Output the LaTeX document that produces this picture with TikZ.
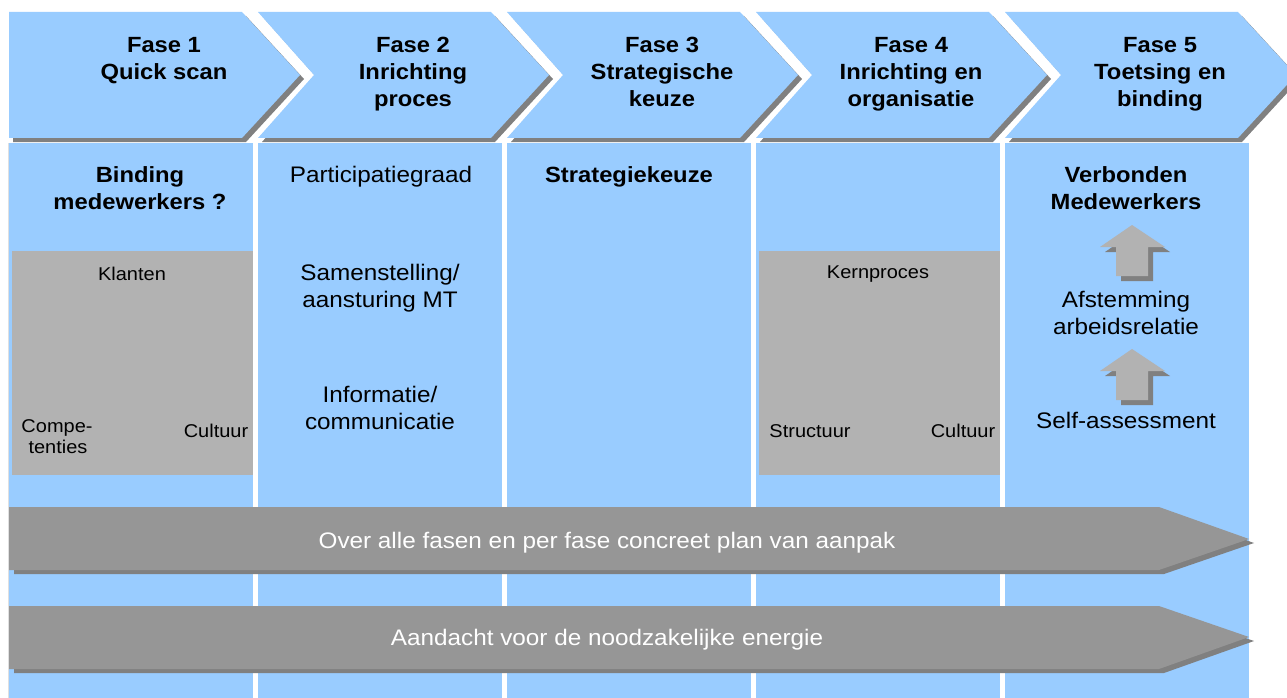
\documentclass[tikz,border=0pt]{standalone}
\usepackage{fontspec}
\setmainfont{Liberation Sans}[FakeStretch=1.08]
\definecolor{pblue}{HTML}{99CCFF}
\definecolor{boxgray}{HTML}{B2B2B2}
\definecolor{bargray}{HTML}{969696}
\definecolor{shd}{HTML}{808080}
\definecolor{edge}{HTML}{E0E0E0}
\tikzset{
  hd/.style={font=\bfseries\fontsize{22}{27}\selectfont, anchor=base, inner sep=0pt},
  bd/.style={font=\fontsize{22.5}{27}\selectfont, anchor=base, inner sep=0pt},
  bdb/.style={font=\bfseries\fontsize{22}{27}\selectfont, anchor=base, inner sep=0pt},
  sm/.style={font=\fontsize{18.5}{21}\selectfont, anchor=base, inner sep=0pt},
  bartext/.style={font=\fontsize{22.5}{27}\selectfont, text=white, anchor=base, inner sep=0pt},
  upshape/.style={fill=boxgray},
  upshadow/.style={fill=shd},
}
\begin{document}
\begin{tikzpicture}[x=1pt,y=-1pt]
\useasboundingbox (0,0) rectangle (1287,698);
\clip (0,0) rectangle (1287,698);
\fill[white] (0,0) rectangle (1287,698);
% column bodies and chevrons
\foreach \i in {0,...,4} {
  \pgfmathsetmacro{\L}{9+249*\i}
  \pgfmathsetmacro{\R}{\L+244}
  \pgfmathsetmacro{\C}{\L+233}
  \pgfmathsetmacro{\T}{\C+58}
  \pgfmathsetmacro{\N}{\L+56}
  \ifnum\i=0 \let\N\L \fi
  \fill[pblue] (\L,143) rectangle (\R,698);
  \fill[shd, shift={(4,4)}] (\L,12) -- (\C,12) -- (\T,75) -- (\C,138) -- (\L,138) -- (\N,75) -- cycle;
  \fill[pblue] (\L,12) -- (\C,12) -- (\T,75) -- (\C,138) -- (\L,138) -- (\N,75) -- cycle;
}
\draw[edge, line width=1pt] (8,143) -- (8,698);
% headings
\node[hd] (h1a) at (164,53) {Fase 1};
\node[hd] (h1b) at (164,80) {Quick scan};
\node[hd] (h2a) at (413,53) {Fase 2};
\node[hd] (h2b) at (413,80) {Inrichting};
\node[hd] (h2c) at (413,107) {proces};
\node[hd] (h3a) at (662,53) {Fase 3};
\node[hd] (h3b) at (662,80) {Strategische};
\node[hd] (h3c) at (662,107) {keuze};
\node[hd] (h4a) at (911,53) {Fase 4};
\node[hd] (h4b) at (911,80) {Inrichting en};
\node[hd] (h4c) at (911,107) {organisatie};
\node[hd] (h5a) at (1160,53) {Fase 5};
\node[hd] (h5b) at (1160,80) {Toetsing en};
\node[hd] (h5c) at (1160,107) {binding};
% gray boxes
\fill[boxgray] (12,251) rectangle (253,475);
\fill[boxgray] (759,251) rectangle (1000,475);
% column 1
\node[bdb] (c1a) at (140,182) {Binding};
\node[bdb] (c1b) at (140,209) {medewerkers ?};
\node[sm] (klanten) at (132,280) {Klanten};
\node[sm] (compe1) at (57,432) {Compe-};
\node[sm] (compe2) at (58,453) {tenties};
\node[sm] (cult1) at (216,437) {Cultuur};
% column 2
\node[bd] (part) at (381,182) {Participatiegraad};
\node[bd] (sam1) at (380,280) {Samenstelling/};
\node[bd] (sam2) at (380,307) {aansturing MT};
\node[bd] (inf1) at (380,402) {Informatie/};
\node[bd] (inf2) at (380,429) {communicatie};
% column 3
\node[bdb] (strat) at (629,182) {Strategiekeuze};
% column 4
\node[sm] (kern) at (878,278) {Kernproces};
\node[sm] (struc) at (810,437) {Structuur};
\node[sm] (cult2) at (963,437) {Cultuur};
% column 5
\node[bdb] (verb1) at (1126,182) {Verbonden};
\node[bdb] (verb2) at (1126,209) {Medewerkers};
\node[bd] (afst1) at (1126,307) {Afstemming};
\node[bd] (afst2) at (1126,334) {arbeidsrelatie};
\node[bd] (self) at (1126,428) {Self-assessment};
% up arrows
\foreach \t in {225,349} {
  \pgfmathsetmacro{\hb}{\t+22}
  \pgfmathsetmacro{\bt}{\t+51}
  \fill[upshadow, shift={(5,5)}] (1132,\t) -- (1165,\hb) -- (1148,\hb) -- (1148,\bt) -- (1116,\bt) -- (1116,\hb) -- (1100,\hb) -- cycle;
  \fill[upshape] (1132,\t) -- (1165,\hb) -- (1148,\hb) -- (1148,\bt) -- (1116,\bt) -- (1116,\hb) -- (1100,\hb) -- cycle;
}
% bars
\fill[shd, shift={(5,4)}] (9,507) -- (1159,507) -- (1249,539) -- (1159,570) -- (9,570) -- cycle;
\fill[bargray] (9,507) -- (1159,507) -- (1249,539) -- (1159,570) -- (9,570) -- cycle;
\fill[shd, shift={(5,4)}] (9,606) -- (1159,606) -- (1249,637) -- (1159,669) -- (9,669) -- cycle;
\fill[bargray] (9,606) -- (1159,606) -- (1249,637) -- (1159,669) -- (9,669) -- cycle;
\node[bartext] (bar1) at (607,548) {Over alle fasen en per fase concreet plan van aanpak};
\node[bartext] (bar2) at (607,645) {Aandacht voor de noodzakelijke energie};
\end{tikzpicture}
\end{document}
